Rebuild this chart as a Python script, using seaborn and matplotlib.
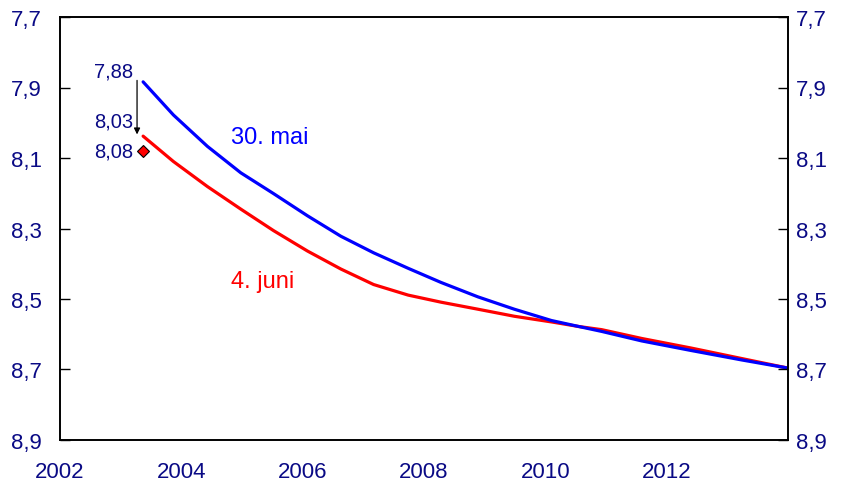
import numpy as np
import pandas as pd
import seaborn as sns
import matplotlib.pyplot as plt
from matplotlib.ticker import FixedLocator, FuncFormatter

# Curve data (year, value)
mai_years = [2003.37, 2003.87, 2004.43, 2004.98, 2005.52, 2006.08, 2006.63, 2007.17,
             2007.74, 2008.28, 2008.89, 2009.49, 2010.10, 2010.55, 2010.93, 2011.59,
             2012.40, 2013.24, 2014.0]
mai_values = [7.884, 7.978, 8.067, 8.142, 8.201, 8.264, 8.322, 8.369,
              8.413, 8.453, 8.494, 8.529, 8.561, 8.578, 8.592, 8.619,
              8.646, 8.673, 8.696]

juni_years = [2003.37, 2003.87, 2004.43, 2004.98, 2005.52, 2006.08, 2006.63, 2007.17,
              2007.74, 2008.28, 2008.89, 2009.49, 2010.10, 2010.55, 2010.93, 2011.59,
              2012.40, 2013.24, 2014.0]
juni_values = [8.038, 8.110, 8.181, 8.245, 8.306, 8.364, 8.415, 8.459,
               8.489, 8.509, 8.529, 8.549, 8.565, 8.578, 8.587, 8.612,
               8.639, 8.669, 8.696]

# values written next to the start of the curves
mai_start_label = 7.88
juni_start_label = 8.03
point_year = 2003.37
point_value = 8.08

y_ticks = [7.7, 7.9, 8.1, 8.3, 8.5, 8.7, 8.9]
x_major = [2002, 2004, 2006, 2008, 2010, 2012, 2014]
x_minor = [2003, 2005, 2007, 2009, 2011, 2013]
x_labels = ["2002", "2004", "2006", "2008", "2010", "2012", ""]

NAVY = "#0a0a85"
BLUE = "#0000ff"
RED = "#ff0000"

sns.set_style("white")
plt.rcParams["font.family"] = ["Liberation Sans", "DejaVu Sans"]

df_mai = pd.DataFrame({"year": mai_years, "value": mai_values})
df_juni = pd.DataFrame({"year": juni_years, "value": juni_values})

fig = plt.figure(figsize=(8.44, 4.89), dpi=100)
ax = fig.add_axes([60 / 844, 1 - 441 / 489, 728 / 844, 423 / 489])

sns.lineplot(data=df_juni, x="year", y="value", color=RED, lw=2.3, ax=ax, sort=False)
sns.lineplot(data=df_mai, x="year", y="value", color=BLUE, lw=2.3, ax=ax, sort=False)
ax.plot([point_year], [point_value], marker="D", ms=6, mfc=RED, mec="black", mew=0.8,
        ls="none")

# arrow from the 30. mai start down to the 4. juni start
ax.annotate("", xy=(point_year - 0.1, juni_values[0] + 0.003),
            xytext=(point_year - 0.1, mai_values[0] - 0.012),
            arrowprops=dict(arrowstyle="-|>", color="black", lw=0.9, mutation_scale=9))

fmt = lambda v: f"{v:.2f}".replace(".", ",")
ax.text(2003.21, mai_start_label - 0.027, fmt(mai_start_label), color=NAVY, fontsize=14.5,
        ha="right", va="center")
ax.text(2003.21, juni_start_label - 0.035, fmt(juni_start_label), color=NAVY, fontsize=14.5,
        ha="right", va="center")
ax.text(2003.21, point_value, fmt(point_value), color=NAVY, fontsize=14.5,
        ha="right", va="center")

ax.text(2005.45, 8.04, "30. mai", color=BLUE, fontsize=17, ha="center", va="center")
ax.text(2005.34, 8.45, "4. juni", color=RED, fontsize=17, ha="center", va="center")

ax.set_xlim(2002, 2014)
ax.set_ylim(8.9, 7.7)
ax.set_xlabel("")
ax.set_ylabel("")

ax.xaxis.set_major_locator(FixedLocator(x_major))
ax.xaxis.set_minor_locator(FixedLocator(x_minor))
ax.set_xticklabels(x_labels)
ax.set_yticks(y_ticks)
ax.yaxis.set_major_formatter(FuncFormatter(lambda v, p: f"{v:.1f}".replace(".", ",")))

ax.tick_params(axis="x", which="major", direction="in", length=8, width=1,
               pad=15, labelsize=16, labelcolor=NAVY, color="black")
ax.tick_params(axis="x", which="minor", direction="in", length=5, width=1, color="black")
ax.tick_params(axis="y", direction="in", length=7, width=1, pad=13,
               labelsize=16, labelcolor=NAVY, color="black", left=True)

ax2 = ax.twinx()
ax2.set_ylim(8.9, 7.7)
ax2.set_yticks(y_ticks)
ax2.yaxis.set_major_formatter(FuncFormatter(lambda v, p: f"{v:.1f}".replace(".", ",")))
ax2.tick_params(axis="y", direction="in", length=7, width=1, pad=6,
                labelsize=16, labelcolor=NAVY, color="black", right=True)

for a in (ax, ax2):
    for s in a.spines.values():
        s.set_visible(True)
        s.set_color("black")
        s.set_linewidth(1.2)

fig.savefig("out.png", dpi=100)
